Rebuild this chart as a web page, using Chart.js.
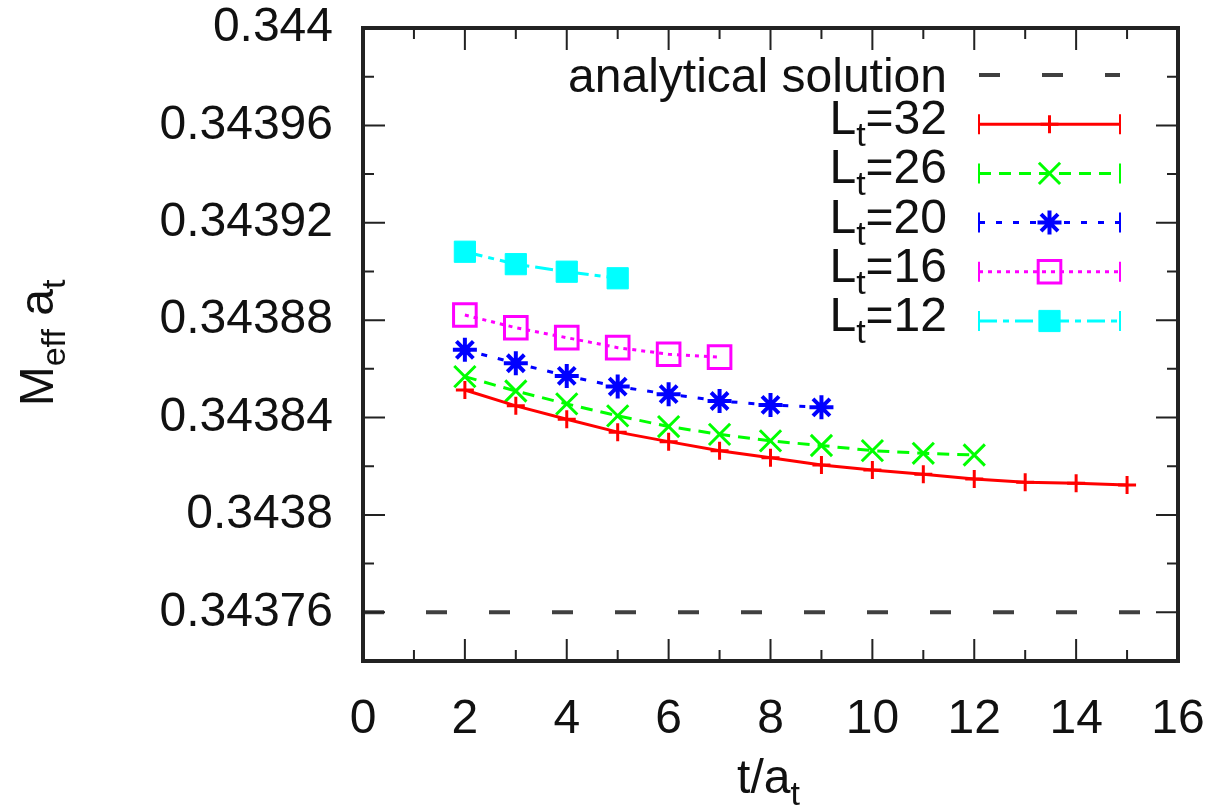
<!DOCTYPE html>
<html>
<head>
<meta charset="utf-8">
<script src="https://cdn.jsdelivr.net/npm/chart.js@4"></script>
<style>
  html, body { margin: 0; padding: 0; background: #fff; }
  #chart { display: block; }
</style>
</head>
<body>
<canvas id="chart" width="1214" height="807"></canvas>
<script>
// Data
const tSteps = [2, 3, 4, 5, 6, 7, 8, 9, 10, 11, 12, 13, 14, 15];
const lt32 = [0.3438513, 0.3438448, 0.3438393, 0.3438340, 0.3438301, 0.3438264, 0.3438235, 0.3438205, 0.3438185, 0.3438167, 0.3438148, 0.3438134, 0.3438130, 0.3438123];
const lt26 = [0.3438568, 0.3438509, 0.3438456, 0.3438407, 0.3438363, 0.3438331, 0.3438304, 0.3438285, 0.3438264, 0.3438253, 0.3438246];
const lt20 = [0.3438678, 0.3438623, 0.3438571, 0.3438527, 0.3438496, 0.3438468, 0.3438452, 0.3438442];
const lt16 = [0.3438821, 0.3438769, 0.3438728, 0.3438687, 0.3438660, 0.3438648];
const lt12 = [0.3439081, 0.3439030, 0.3438999, 0.3438972];
const analytical = 0.34376;
const analyticalRange = [0, 16];

const xTicks = [0, 2, 4, 6, 8, 10, 12, 14, 16];
const yTicks = [0.34376, 0.3438, 0.34384, 0.34388, 0.34392, 0.34396, 0.344];
const yTickLabels = ['0.34376', '0.3438', '0.34384', '0.34388', '0.34392', '0.34396', '0.344'];

const FONT = "'Liberation Sans', Arial, sans-serif";
const TEXT = '#111';

function series(values) {
    return values.map((v, i) => ({ x: tSteps[i], y: v }));
}

// split "L_t=32" / "M_{eff}" into normal and subscript parts
function parseRich(label) {
    const parts = [];
    const re = /_(\{[^}]*\}|.)/g;
    let last = 0, m;
    while ((m = re.exec(label)) !== null) {
        if (m.index > last) parts.push({ text: label.slice(last, m.index), sub: false });
        parts.push({ text: m[1].replace(/[{}]/g, ''), sub: true });
        last = re.lastIndex;
    }
    if (last < label.length) parts.push({ text: label.slice(last), sub: false });
    return parts;
}

function drawRich(ctx, label, x, y, align, size) {
    const subSize = Math.round(size * 0.7);
    const parts = parseRich(label);
    let w = 0;
    parts.forEach(p => {
        ctx.font = (p.sub ? subSize : size) + 'px ' + FONT;
        p.w = ctx.measureText(p.text).width;
        w += p.w;
    });
    let cx = align === 'right' ? x - w : (align === 'center' ? x - w / 2 : x);
    ctx.textAlign = 'left';
    ctx.textBaseline = 'alphabetic';
    parts.forEach(p => {
        ctx.font = (p.sub ? subSize : size) + 'px ' + FONT;
        ctx.fillText(p.text, cx, p.sub ? y + size * 0.25 : y);
        cx += p.w;
    });
}

// Frame with inward major / minor ticks on all four sides
const framePlugin = {
    id: 'frame',
    afterDatasetsDraw(chart) {
        const { ctx, chartArea: a, scales } = chart;
        const xs = scales.x, ys = scales.y;
        ctx.save();
        ctx.strokeStyle = '#222';
        ctx.lineWidth = 2;
        const major = 22, minor = 11;
        for (let v = xs.min; v <= xs.max; v += 1) {
            const px = xs.getPixelForValue(v);
            const len = (v % 2 === 0) ? major : minor;
            ctx.beginPath();
            ctx.moveTo(px, a.bottom); ctx.lineTo(px, a.bottom - len);
            ctx.moveTo(px, a.top); ctx.lineTo(px, a.top + len);
            ctx.stroke();
        }
        const yAll = [];
        yTicks.forEach((v, i) => {
            yAll.push([v, major]);
            if (i > 0) yAll.push([(v + yTicks[i - 1]) / 2, minor]);
        });
        yAll.push([yTicks[0] - (yTicks[1] - yTicks[0]) / 2, minor]);
        yAll.forEach(([v, len]) => {
            const py = ys.getPixelForValue(v);
            ctx.beginPath();
            ctx.moveTo(a.left, py); ctx.lineTo(a.left + len, py);
            ctx.moveTo(a.right, py); ctx.lineTo(a.right - len, py);
            ctx.stroke();
        });
        ctx.lineWidth = 4;
        ctx.strokeRect(a.left, a.top, a.right - a.left, a.bottom - a.top);
        ctx.restore();
    }
};

// Axis titles with subscripts
const titlePlugin = {
    id: 'titles',
    afterDraw(chart) {
        const { ctx, chartArea: a } = chart;
        ctx.save();
        ctx.fillStyle = TEXT;
        drawRich(ctx, 't/a_t', (a.left + a.right) / 2 - 2, 793, 'center', 48);
        ctx.translate(53, 343);
        ctx.rotate(-Math.PI / 2);
        drawRich(ctx, 'M_{eff} a_t', 0, 0, 'center', 48);
        ctx.restore();
    }
};

// gnuplot-style key: right aligned text, sample line to the right
const keyPlugin = {
    id: 'key',
    afterDraw(chart) {
        const { ctx } = chart;
        const textRight = 947, x0 = 979, x1 = 1120, top = 75, step = 49.2;
        ctx.save();
        chart.data.datasets.forEach((ds, i) => {
            const y = top + i * step;
            ctx.fillStyle = TEXT;
            drawRich(ctx, ds.label, textRight, y + (i === 0 ? 17 : 10), 'right', 48);
            ctx.strokeStyle = ds.borderColor;
            ctx.lineWidth = ds.borderWidth;
            ctx.setLineDash(ds.borderDash || []);
            ctx.beginPath();
            ctx.moveTo(x0, y); ctx.lineTo(x1, y);
            ctx.stroke();
            ctx.setLineDash([]);
            if (ds.pointRadius > 0) {
                ctx.lineWidth = 2;
                ctx.beginPath();
                ctx.moveTo(x0, y - 10); ctx.lineTo(x0, y + 10);
                ctx.moveTo(x1, y - 10); ctx.lineTo(x1, y + 10);
                ctx.stroke();
                ctx.fillStyle = ds.pointBackgroundColor;
                ctx.strokeStyle = ds.borderColor;
                ctx.lineWidth = ds.pointBorderWidth;
                Chart.helpers.drawPoint(ctx, {
                    pointStyle: ds.pointStyle,
                    radius: ds.pointRadius,
                    borderWidth: ds.pointBorderWidth
                }, (x0 + x1) / 2, y);
            }
        });
        ctx.restore();
    }
};

const ctx = document.getElementById('chart').getContext('2d');
new Chart(ctx, {
    type: 'line',
    data: {
        datasets: [
            {
                label: 'analytical solution',
                data: analyticalRange.map(x => ({ x: x, y: analytical })),
                borderColor: '#404040',
                borderWidth: 4,
                borderDash: [21, 42],
                pointRadius: 0
            },
            {
                label: 'L_t=32',
                data: series(lt32),
                borderColor: '#ff0000',
                borderWidth: 3,
                pointStyle: 'cross',
                pointRadius: 9,
                pointBorderWidth: 3,
                pointBackgroundColor: '#ff0000'
            },
            {
                label: 'L_t=26',
                data: series(lt26),
                borderColor: '#00ff00',
                borderWidth: 3,
                borderDash: [12, 8],
                pointStyle: 'crossRot',
                pointRadius: 15,
                pointBorderWidth: 3,
                pointBackgroundColor: '#00ff00'
            },
            {
                label: 'L_t=20',
                data: series(lt20),
                borderColor: '#0000ff',
                borderWidth: 3,
                borderDash: [6, 11],
                pointStyle: 'star',
                pointRadius: 12,
                pointBorderWidth: 4,
                pointBackgroundColor: '#0000ff'
            },
            {
                label: 'L_t=16',
                data: series(lt16),
                borderColor: '#ff00ff',
                borderWidth: 3,
                borderDash: [4, 5],
                pointStyle: 'rect',
                pointRadius: 16,
                pointBorderWidth: 3,
                pointBackgroundColor: 'rgba(255,255,255,0)'
            },
            {
                label: 'L_t=12',
                data: series(lt12),
                borderColor: '#00ffff',
                borderWidth: 3,
                borderDash: [18, 6, 6, 6],
                pointStyle: 'rect',
                pointRadius: 15,
                pointBorderWidth: 1,
                pointBackgroundColor: '#00ffff'
            }
        ]
    },
    options: {
        responsive: false,
        animation: false,
        devicePixelRatio: 1,
        layout: {
            padding: { left: 0, right: 36, top: 28, bottom: 0 }
        },
        elements: {
            line: { tension: 0, fill: false }
        },
        plugins: {
            legend: { display: false },
            tooltip: { enabled: false }
        },
        scales: {
            x: {
                type: 'linear',
                min: 0,
                max: 16,
                afterBuildTicks: scale => {
                    scale.ticks = xTicks.map(v => ({ value: v }));
                },
                afterFit: scale => {
                    scale.height = 146;
                    scale.paddingLeft = 0;
                    scale.paddingRight = 0;
                },
                grid: { display: false, drawTicks: false },
                border: { display: false },
                ticks: {
                    autoSkip: false,
                    maxRotation: 0,
                    padding: 30,
                    color: TEXT,
                    font: { family: FONT, size: 48 },
                    callback: v => String(v)
                }
            },
            y: {
                type: 'linear',
                min: 0.34374,
                max: 0.344,
                afterBuildTicks: scale => {
                    scale.ticks = yTicks.map(v => ({ value: v }));
                },
                afterFit: scale => {
                    scale.width = 363;
                    scale.paddingTop = 0;
                    scale.paddingBottom = 0;
                },
                grid: { display: false, drawTicks: false },
                border: { display: false },
                ticks: {
                    autoSkip: false,
                    padding: 30,
                    color: TEXT,
                    font: { family: FONT, size: 48 },
                    callback: v => yTickLabels[yTicks.indexOf(v)]
                }
            }
        }
    },
    plugins: [framePlugin, titlePlugin, keyPlugin]
});
</script>
</body>
</html>
